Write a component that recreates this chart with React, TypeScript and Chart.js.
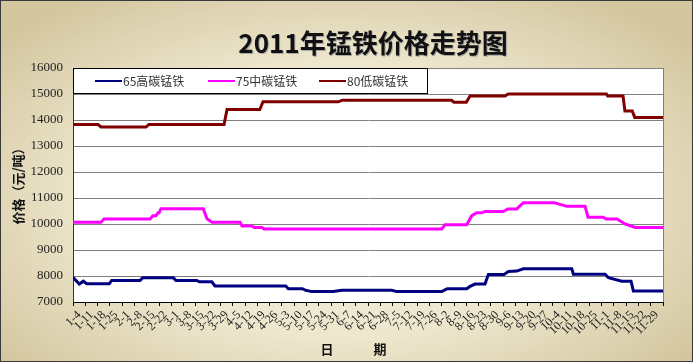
import React, { useEffect, useRef } from "react";
import { Chart, registerables } from "chart.js";

Chart.register(...registerables);

const xLabels = [
  "1-4", "1-11", "1-18", "1-25", "2-1", "2-8", "2-15", "2-22", "3-1", "3-8", "3-15", "3-22",
  "3-29", "4-5", "4-12", "4-19", "4-26", "5-3", "5-10", "5-17", "5-24", "5-31", "6-7", "6-14",
  "6-21", "6-28", "7-5", "7-12", "7-19", "7-26", "8-2", "8-9", "8-16", "8-23", "8-30", "9-6",
  "9-13", "9-20", "9-27", "10-4", "10-11", "10-18", "10-25", "11-1", "11-8", "11-15", "11-22", "11-29",
];

const seriesNames = ["65高碳锰铁", "75中碳锰铁", "80低碳锰铁"];
const seriesColors = ["#000080", "#FF00FF", "#800000"];

// positions in weeks along the axis (0 = left edge, 48 = right edge)
const highCarbonX = [0, 0.51, 0.84, 1.11, 2.95, 3.15, 5.45, 5.67, 8.16, 8.38, 10.07, 10.28, 11.29, 11.55, 17.31,
  17.52, 18.66, 18.93, 19.42, 21.18, 21.86, 25.93, 26.34, 30.0, 30.45, 32.03, 32.3, 32.71, 33.52, 33.79,
  35.07, 35.42, 36.1, 36.64, 40.58, 40.71, 43.29, 43.56, 44.65, 45.4, 45.59, 48];
const highCarbonY = [7950, 7690, 7800, 7700, 7700, 7830, 7830, 7930, 7930, 7830, 7830, 7780, 7780, 7620, 7620,
  7510, 7510, 7450, 7400, 7400, 7450, 7450, 7400, 7400, 7510, 7510, 7600, 7690, 7690, 8060,
  8060, 8170, 8190, 8280, 8280, 8070, 8070, 7935, 7800, 7800, 7420, 7420];

const midCarbonX = [0, 2.28, 2.52, 6.27, 6.5, 6.75, 6.92, 7.0, 7.16, 10.6, 10.9, 11.31, 13.59, 13.75, 14.56,
  14.73, 15.38, 15.54, 30.0, 30.27, 32.03, 32.44, 32.85, 33.28, 33.5, 34.99, 35.39, 36.1, 36.64, 39.14,
  40.17, 41.66, 41.9, 43.12, 43.37, 44.26, 44.91, 45.73, 48];
const midCarbonY = [10070, 10070, 10190, 10190, 10320, 10320, 10430, 10430, 10590, 10590, 10200, 10070, 10070, 9920, 9920,
  9870, 9870, 9810, 9810, 9975, 9975, 10320, 10430, 10430, 10480, 10480, 10580, 10580, 10820, 10820,
  10680, 10680, 10260, 10260, 10195, 10195, 10000, 9870, 9870];

const lowCarbonX = [0, 2.03, 2.28, 5.94, 6.18, 12.29, 12.53, 15.2, 15.46, 21.6, 21.9, 30.8, 31.0, 32.0, 32.3,
  35.15, 35.4, 43.4, 43.5, 44.75, 44.9, 45.5, 45.7, 48];
const lowCarbonY = [13830, 13830, 13730, 13730, 13830, 13830, 14400, 14400, 14700, 14700, 14760, 14760, 14680, 14680, 14920,
  14920, 15000, 15000, 14920, 14920, 14350, 14350, 14100, 14100];

const yMin = 7000;
const yMax = 16000;
const yStep = 1000;

const titleText = "2011年锰铁价格走势图";
const yTitle = "价格（元/吨）";

function toPoints(xs: number[], ys: number[]) {
  return xs.map((x, i) => ({ x, y: ys[i] }));
}

const decorPlugin = {
  id: "decor",
  beforeDraw(chart: any) {
    const { ctx, chartArea: a } = chart;
    ctx.save();
    ctx.translate(340, 200);
    ctx.scale(1, 0.56);
    const g = ctx.createRadialGradient(0, 0, 0, 0, 0, 440);
    g.addColorStop(0, "#F8F4E4");
    g.addColorStop(0.55, "#EEE7CE");
    g.addColorStop(1, "#D4C7A0");
    ctx.fillStyle = g;
    ctx.fillRect(-400, -400, 800, 800);
    ctx.restore();
    ctx.save();
    ctx.fillStyle = "#FFFFFF";
    ctx.fillRect(a.left, a.top, a.right - a.left, a.bottom - a.top);
    ctx.restore();
  },
  beforeDatasetsDraw(chart: any) {
    const { ctx, chartArea: a } = chart;
    ctx.save();
    ctx.strokeStyle = "#808080";
    ctx.lineWidth = 1;
    ctx.beginPath();
    ctx.moveTo(Math.round(a.right) + 0.5, a.top);
    ctx.lineTo(Math.round(a.right) + 0.5, a.bottom);
    ctx.stroke();
    ctx.restore();
  },
  afterDraw(chart: any) {
    const { ctx, width, height, chartArea: a } = chart;
    ctx.save();
    ctx.strokeStyle = "#3A3A3A";
    ctx.lineWidth = 1;
    ctx.strokeRect(0.5, 0.5, width - 1, height - 1);

    ctx.font = 'bold 26px "Noto Sans CJK SC"';
    ctx.textAlign = "center";
    ctx.textBaseline = "middle";
    ctx.fillStyle = "#a8a8a8";
    ctx.fillText(titleText, 374, 44);
    ctx.fillStyle = "#111111";
    ctx.fillText(titleText, 373, 43);

    ctx.save();
    ctx.translate(18, 183);
    ctx.rotate(-Math.PI / 2);
    ctx.font = 'bold 13px "Noto Sans CJK SC"';
    ctx.fillStyle = "#111111";
    ctx.fillText(yTitle, 0, 0);
    ctx.restore();

    ctx.font = 'bold 13px "Noto Sans CJK SC"';
    ctx.fillStyle = "#111111";
    ctx.fillText("日", 327, 349);
    ctx.fillText("期", 380, 349);

    const lx = a.left, ly = a.top, lw = 354, lh = 25;
    ctx.fillStyle = "#FFFFFF";
    ctx.fillRect(lx, ly, lw, lh);
    ctx.strokeStyle = "#000000";
    ctx.lineWidth = 1;
    ctx.strokeRect(Math.round(lx) + 0.5, Math.round(ly) + 0.5, lw, lh);
    const itemX = [95, 208, 319];
    ctx.font = '12px "Noto Sans CJK SC"';
    ctx.textAlign = "left";
    ctx.textBaseline = "middle";
    seriesNames.forEach((name, i) => {
      const x0 = itemX[i];
      const y0 = ly + 13;
      ctx.strokeStyle = seriesColors[i];
      ctx.lineWidth = 2;
      ctx.beginPath();
      ctx.moveTo(x0, y0);
      ctx.lineTo(x0 + 27, y0);
      ctx.stroke();
      ctx.fillStyle = "#333333";
      ctx.fillText(name, x0 + 28, y0);
    });
    ctx.restore();
  },
};

export default function App() {
  const canvasRef = useRef<HTMLCanvasElement | null>(null);

  useEffect(() => {
    document.body.style.margin = "0";
    const canvas = canvasRef.current;
    if (!canvas) return;
    const seriesX = [highCarbonX, midCarbonX, lowCarbonX];
    const seriesY = [highCarbonY, midCarbonY, lowCarbonY];
    const chart = new Chart(canvas, {
      type: "line",
      data: {
        labels: xLabels,
        datasets: seriesNames.map((name, i) => ({
          label: name,
          data: toPoints(seriesX[i], seriesY[i]),
          xAxisID: "xl",
          yAxisID: "y",
          borderColor: seriesColors[i],
          backgroundColor: seriesColors[i],
          borderWidth: 3,
          pointRadius: 0,
          tension: 0,
          fill: false,
        })),
      },
      options: {
        animation: false,
        responsive: false,
        devicePixelRatio: 1,
        layout: { padding: { top: 68, right: 30, left: 0, bottom: 0 } },
        plugins: {
          legend: { display: false },
          title: { display: false },
          tooltip: { enabled: false },
        },
        scales: {
          x: {
            type: "category",
            position: "bottom",
            offset: true,
            afterFit: (s: any) => {
              s.height = 60;
            },
            grid: {
              offset: true,
              drawOnChartArea: false,
              drawTicks: true,
              tickLength: 4,
              color: "#000000",
            },
            border: { display: true, color: "#000000", width: 1 },
            ticks: {
              autoSkip: false,
              maxRotation: 45,
              minRotation: 45,
              padding: 2,
              color: "#222222",
              font: { family: "Liberation Serif", size: 12 },
            },
          },
          xl: {
            type: "linear",
            position: "bottom",
            display: false,
            min: 0,
            max: 48,
          },
          y: {
            type: "linear",
            position: "left",
            min: yMin,
            max: yMax,
            afterFit: (s: any) => {
              s.width = 73;
            },
            grid: { color: "#808080", lineWidth: 1, drawTicks: false },
            border: { display: true, color: "#333333", width: 1 },
            ticks: {
              stepSize: yStep,
              padding: 10,
              color: "#222222",
              font: { family: "Liberation Serif", size: 13 },
              callback: (v: any) => String(v),
            },
          },
        },
      },
      plugins: [decorPlugin],
    });
    return () => chart.destroy();
  }, []);

  return (
    <div style={{ width: 693, height: 362, position: "relative" }}>
      <canvas ref={canvasRef} width={693} height={362} style={{ display: "block" }} />
    </div>
  );
}
